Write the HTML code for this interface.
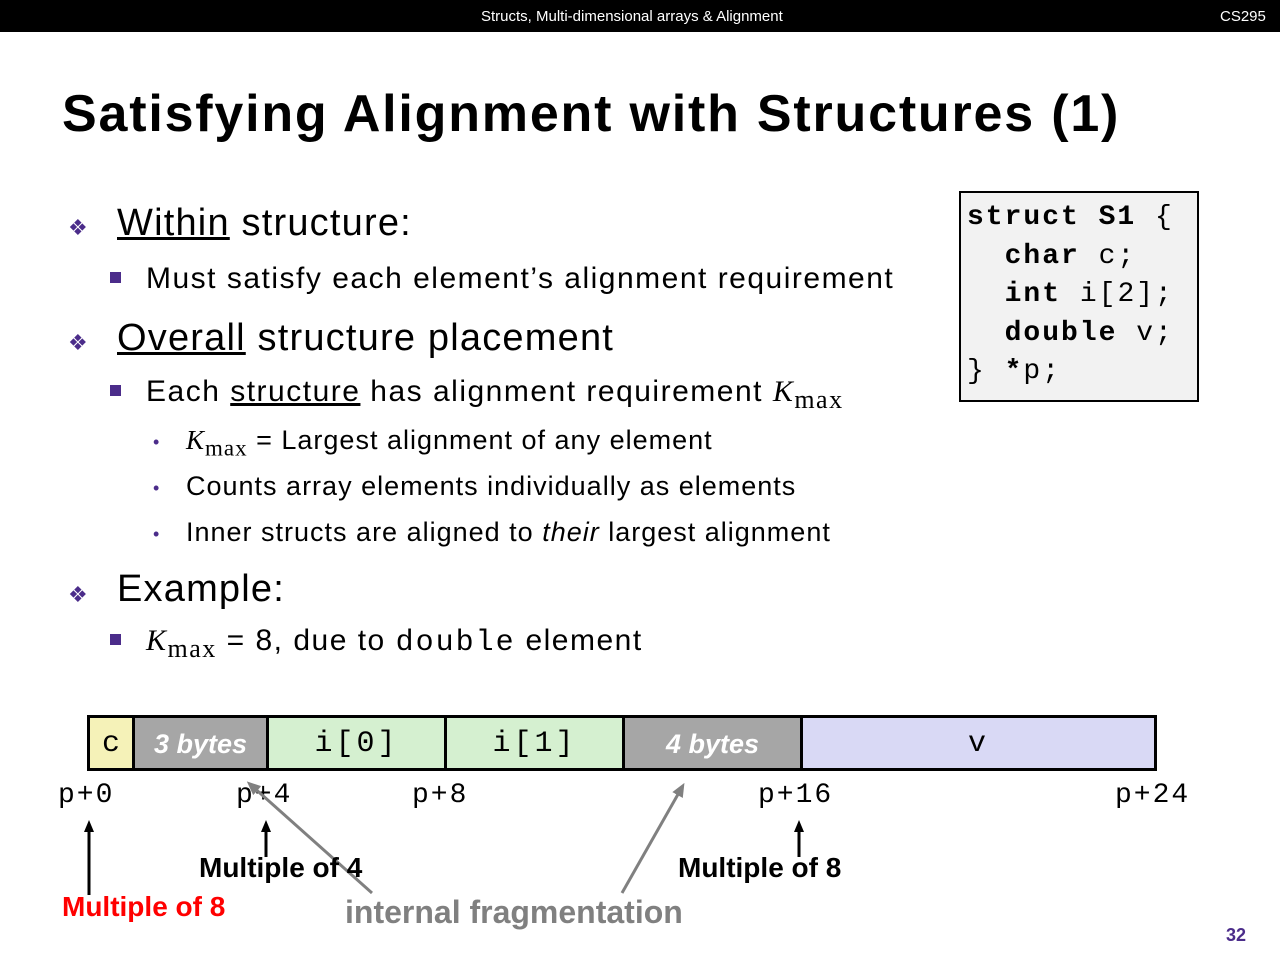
<!DOCTYPE html>
<html><head><style>
body{margin:0;width:1280px;height:960px;background:#fff;position:relative;overflow:hidden;font-family:"Liberation Sans",sans-serif}
.a{position:absolute;white-space:nowrap}
.m{font-family:"Liberation Mono",monospace}
.cell{position:absolute;top:0;height:50px;border-right:3px solid #000;box-sizing:border-box;text-align:center;line-height:52px;font-size:30px}
.cell.m{letter-spacing:3px}
.g{background:#a6a6a6;color:#fff;font-weight:bold;font-style:italic;font-size:27px}
.gr{background:#d5f0d0}
.lab{position:absolute;font-family:"Liberation Mono",monospace;font-size:28px;top:780px;letter-spacing:2px}
.db{color:#4b2c8a;font-size:22px}
.sq{position:absolute;width:11px;height:11px;background:#4b2c8a}
.dot{color:#4b2c8a;font-size:18px}
.h{font-size:38px;letter-spacing:1.2px}
.b1{font-size:30px;letter-spacing:1.5px}
.b2{font-size:27px;letter-spacing:1px}
</style></head><body>
<div class="a" style="left:0;top:0;width:1280px;height:32px;background:#000"></div>
<div class="a" style="left:481px;top:8px;color:#fff;font-size:15px">Structs, Multi-dimensional arrays &amp; Alignment</div>
<div class="a" style="left:1220px;top:8px;color:#fff;font-size:15px">CS295</div>
<div class="a" style="left:62px;top:84px;font-size:52px;font-weight:bold;letter-spacing:1.8px">Satisfying Alignment with Structures (1)</div>

<div class="a db" style="left:68px;top:215px">❖</div>
<div class="a h" style="left:117px;top:202px"><u>Within</u> structure:</div>
<div class="sq" style="left:110px;top:272px"></div>
<div class="a b1" style="left:146px;top:262px">Must satisfy each element’s alignment requirement</div>
<div class="a db" style="left:68px;top:330px">❖</div>
<div class="a h" style="left:117px;top:317px"><u>Overall</u> structure placement</div>
<div class="sq" style="left:110px;top:385px"></div>
<div class="a b1" style="left:146px;top:375px">Each <u>structure</u> has alignment requirement <i style="font-family:'Liberation Serif',serif">K</i><sub style="font-family:'Liberation Serif',serif;font-size:26px">max</sub></div>
<div class="a dot" style="left:153px;top:432px">•</div>
<div class="a b2" style="left:186px;top:425px"><i style="font-family:'Liberation Serif',serif">K</i><sub style="font-family:'Liberation Serif',serif;font-size:23px">max</sub> = Largest alignment of any element</div>
<div class="a dot" style="left:153px;top:478px">•</div>
<div class="a b2" style="left:186px;top:471px">Counts array elements individually as elements</div>
<div class="a dot" style="left:153px;top:524px">•</div>
<div class="a b2" style="left:186px;top:517px">Inner structs are aligned to <i>their</i> largest alignment</div>
<div class="a db" style="left:68px;top:582px">❖</div>
<div class="a h" style="left:117px;top:568px">Example:</div>
<div class="sq" style="left:110px;top:634px"></div>
<div class="a b1" style="left:146px;top:624px"><i style="font-family:'Liberation Serif',serif">K</i><sub style="font-family:'Liberation Serif',serif;font-size:26px">max</sub> = 8, due to <span class="m" style="letter-spacing:2px">double</span> element</div>

<div class="a m" style="left:959px;top:191px;width:240px;height:211px;border:2px solid #000;background:#f2f2f2;font-size:28px;line-height:38.5px;padding:6px 0 0 6px;box-sizing:border-box;white-space:pre;letter-spacing:2px"><b>struct S1</b> {
  <b>char</b> c;
  <b>int</b> i[2];
  <b>double</b> v;
} <b>*</b>p;</div>

<div class="a" style="left:87px;top:715px;width:1070px;height:56px;border:3px solid #000;box-sizing:border-box">
<div class="cell m" style="left:0;width:45px;background:#f5f2b8;letter-spacing:0">c</div>
<div class="cell g" style="left:45px;width:134px">3 bytes</div>
<div class="cell gr m" style="left:179px;width:178px">i[0]</div>
<div class="cell gr m" style="left:357px;width:178px">i[1]</div>
<div class="cell g" style="left:535px;width:178px">4 bytes</div>
<div class="cell m" style="left:713px;width:351px;background:#d9d9f5;border-right:none">v</div>
</div>
<div class="lab" style="left:58px">p+0</div>
<div class="lab" style="left:236px">p+4</div>
<div class="lab" style="left:412px">p+8</div>
<div class="lab" style="left:758px">p+16</div>
<div class="lab" style="left:1115px">p+24</div>

<svg class="a" style="left:0;top:0" width="1280" height="960">
<defs><marker id="k" markerUnits="userSpaceOnUse" markerWidth="12" markerHeight="12" refX="6" refY="6" orient="auto"><path d="M0,1L12,6L0,11z" fill="#000"/></marker>
<marker id="h" markerUnits="userSpaceOnUse" markerWidth="14" markerHeight="14" refX="7" refY="7" orient="auto"><path d="M0,1L14,7L0,13z" fill="#808080"/></marker></defs>
<line x1="89" y1="895" x2="89" y2="826" stroke="#000" stroke-width="3" marker-end="url(#k)"/>
<line x1="266" y1="857" x2="266" y2="826" stroke="#000" stroke-width="3" marker-end="url(#k)"/>
<line x1="799" y1="857" x2="799" y2="826" stroke="#000" stroke-width="3" marker-end="url(#k)"/>
<line x1="372" y1="893" x2="252" y2="786" stroke="#808080" stroke-width="3" marker-end="url(#h)"/>
<line x1="622" y1="893" x2="681" y2="789" stroke="#808080" stroke-width="3" marker-end="url(#h)"/>
</svg>
<div class="a" style="left:199px;top:852px;font-size:28px;font-weight:bold">Multiple of 4</div>
<div class="a" style="left:678px;top:852px;font-size:28px;font-weight:bold">Multiple of 8</div>
<div class="a" style="left:62px;top:891px;font-size:28px;font-weight:bold;color:#f00">Multiple of 8</div>
<div class="a" style="left:345px;top:894px;font-size:32px;font-weight:bold;color:#808080">internal fragmentation</div>
<div class="a" style="left:1226px;top:925px;font-size:18px;font-weight:bold;color:#4b2c8a">32</div>
</body></html>
